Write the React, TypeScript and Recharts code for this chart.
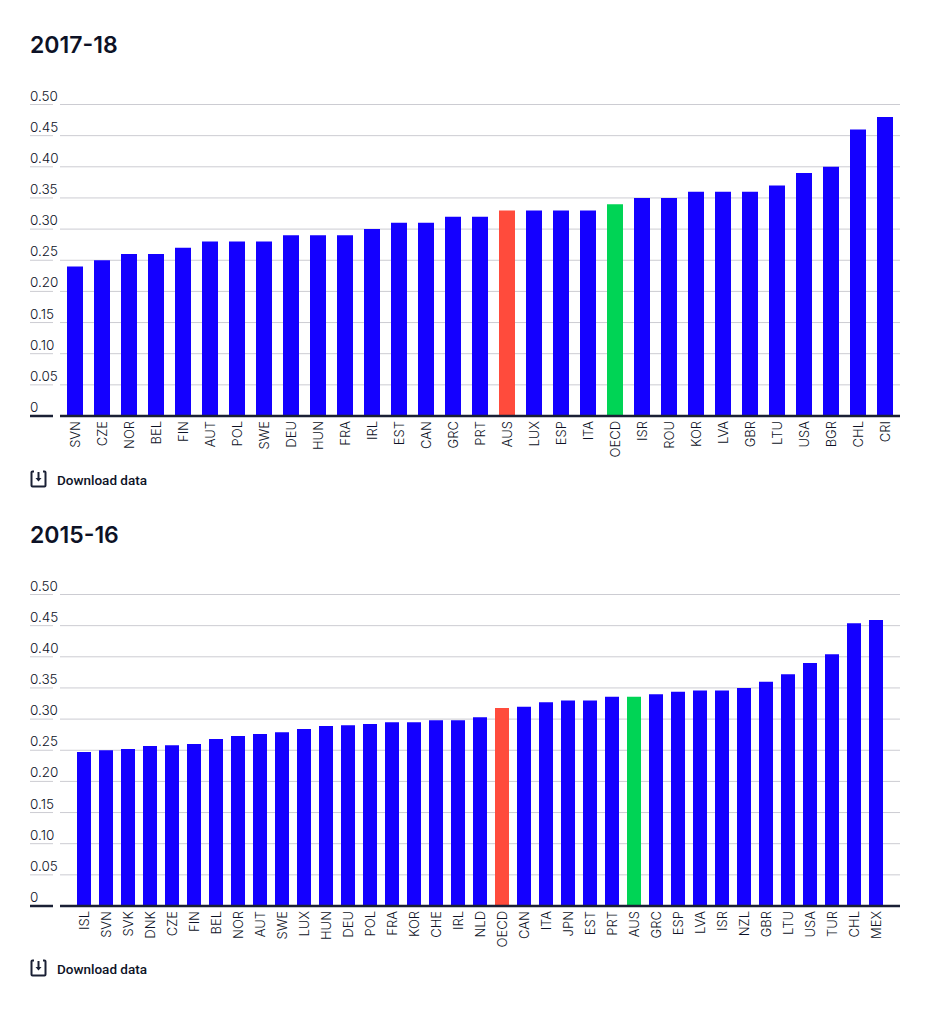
import React from 'react';
import { BarChart, Bar, XAxis, YAxis, CartesianGrid, Cell } from 'recharts';

// 2017-18 values
const categories1718 = ['SVN', 'CZE', 'NOR', 'BEL', 'FIN', 'AUT', 'POL', 'SWE', 'DEU', 'HUN', 'FRA', 'IRL', 'EST', 'CAN', 'GRC', 'PRT', 'AUS', 'LUX', 'ESP', 'ITA', 'OECD', 'ISR', 'ROU', 'KOR', 'LVA', 'GBR', 'LTU', 'USA', 'BGR', 'CHL', 'CRI'];
const values1718 = [0.24, 0.25, 0.26, 0.26, 0.27, 0.28, 0.28, 0.28, 0.29, 0.29, 0.29, 0.3, 0.31, 0.31, 0.32, 0.32, 0.33, 0.33, 0.33, 0.33, 0.34, 0.35, 0.35, 0.36, 0.36, 0.36, 0.37, 0.39, 0.4, 0.46, 0.48];

// 2015-16 values
const categories1516 = ['ISL', 'SVN', 'SVK', 'DNK', 'CZE', 'FIN', 'BEL', 'NOR', 'AUT', 'SWE', 'LUX', 'HUN', 'DEU', 'POL', 'FRA', 'KOR', 'CHE', 'IRL', 'NLD', 'OECD', 'CAN', 'ITA', 'JPN', 'EST', 'PRT', 'AUS', 'GRC', 'ESP', 'LVA', 'ISR', 'NZL', 'GBR', 'LTU', 'USA', 'TUR', 'CHL', 'MEX'];
const values1516 = [0.247, 0.25, 0.252, 0.257, 0.258, 0.26, 0.268, 0.273, 0.276, 0.279, 0.284, 0.289, 0.29, 0.292, 0.295, 0.295, 0.298, 0.298, 0.303, 0.318, 0.32, 0.327, 0.33, 0.33, 0.336, 0.336, 0.34, 0.344, 0.346, 0.346, 0.35, 0.36, 0.372, 0.39, 0.404, 0.454, 0.459];

const yTicks = [0, 0.05, 0.1, 0.15, 0.2, 0.25, 0.3, 0.35, 0.4, 0.45, 0.5];

const BLUE = '#1400ff';
const RED = '#ff4b3c';
const GREEN = '#00d455';
const NAVY = '#1a2035';
const GRID = '#ccccd2';
const TEXT = '#0d1226';
const LABEL_FONT = 'Inter, sans-serif';

// labels sit above the gridline, and the line runs on to the left edge
const YTick = ({ x, y, payload }: any) => {
  const v = payload.value;
  return (
    <g>
      <line x1={0} x2={x + 1} y1={y} y2={y} stroke={v === 0 ? NAVY : GRID} strokeWidth={v === 0 ? 2.5 : 1} />
      <text x={0} y={y - 4} fontSize={13.5} fontWeight={300} fontFamily={LABEL_FONT} fill={TEXT}>
        {v === 0 ? '0' : v.toFixed(2)}
      </text>
    </g>
  );
};

const XTick = ({ x, y, payload }: any) => (
  <text
    transform={`translate(${x + 5},${y - 3}) rotate(-90)`}
    textAnchor="end"
    fontSize={13}
    fontWeight={300}
    fontFamily={LABEL_FONT}
    fill={TEXT}
  >
    {payload.value}
  </text>
);

const barColor = (name: string, red: string, green: string) => {
  if (name === red) return RED;
  if (name === green) return GREEN;
  return BLUE;
};

interface PanelProps {
  title: string;
  categories: string[];
  values: number[];
  top: number;
  barSize: number;
  padLeft: number;
  padRight: number;
  downloadTop: number;
  red: string;
  green: string;
}

const Panel = ({ title, categories, values, top, barSize, padLeft, padRight, downloadTop, red, green }: PanelProps) => {
  const data = categories.map((name, i) => ({ name, value: values[i] }));
  return (
    <div style={{ position: 'absolute', left: 0, top, width: 930, height: 490 }}>
      <div style={{ position: 'absolute', left: 30, top: 31, fontFamily: 'Inter, sans-serif', fontWeight: 600, fontSize: 23, lineHeight: '28px', color: TEXT }}>
        {title}
      </div>
      <div style={{ position: 'absolute', left: 30, top: 70 }}>
        <BarChart width={870} height={406} data={data} margin={{ top: 34.5, right: 0, bottom: 0, left: 0 }} barCategoryGap={0}>
          <CartesianGrid vertical={false} stroke={GRID} horizontalValues={yTicks} />
          <YAxis width={30} domain={[0, 0.5]} ticks={yTicks} axisLine={false} tickLine={false} tick={<YTick />} interval={0} />
          <XAxis
            dataKey="name"
            height={60}
            interval={0}
            padding={{ left: padLeft, right: padRight }}
            axisLine={{ stroke: NAVY, strokeWidth: 2.5 }}
            tickLine={false}
            tick={<XTick />}
          />
          <Bar dataKey="value" barSize={barSize} isAnimationActive={false}>
            {data.map((d) => (
              <Cell key={d.name} fill={barColor(d.name, red, green)} />
            ))}
          </Bar>
        </BarChart>
      </div>
      <div style={{ position: 'absolute', left: 30, top: downloadTop }}>
        <svg width={18} height={18} viewBox="0 0 18 18" style={{ position: 'absolute', left: 0, top: 0 }}>
          <path d="M4 1.5H2.5a1 1 0 0 0-1 1v13a1 1 0 0 0 1 1h12a1 1 0 0 0 1-1v-13a1 1 0 0 0-1-1H13" fill="none" stroke={NAVY} strokeWidth={2} />
          <path d="M8.5 2v8" stroke={NAVY} strokeWidth={2} />
          <path d="M5.5 8l3 3.5 3-3.5z" fill={NAVY} />
        </svg>
        <span style={{ position: 'absolute', left: 27, top: 1, whiteSpace: 'nowrap', fontFamily: 'Roboto, sans-serif', fontWeight: 500, fontSize: 13.5, lineHeight: '18px', color: TEXT }}>
          Download data
        </span>
      </div>
    </div>
  );
};

export default function App() {
  return (
    <div style={{ position: 'absolute', left: 0, top: 0, width: 930, height: 1012, background: '#fff' }}>
      <Panel title="2017-18" categories={categories1718} values={values1718} top={0} barSize={16} padLeft={1} padRight={2} downloadTop={470} red="AUS" green="OECD" />
      <Panel title="2015-16" categories={categories1516} values={values1516} top={490} barSize={14} padLeft={13} padRight={13} downloadTop={469} red="OECD" green="AUS" />
    </div>
  );
}
